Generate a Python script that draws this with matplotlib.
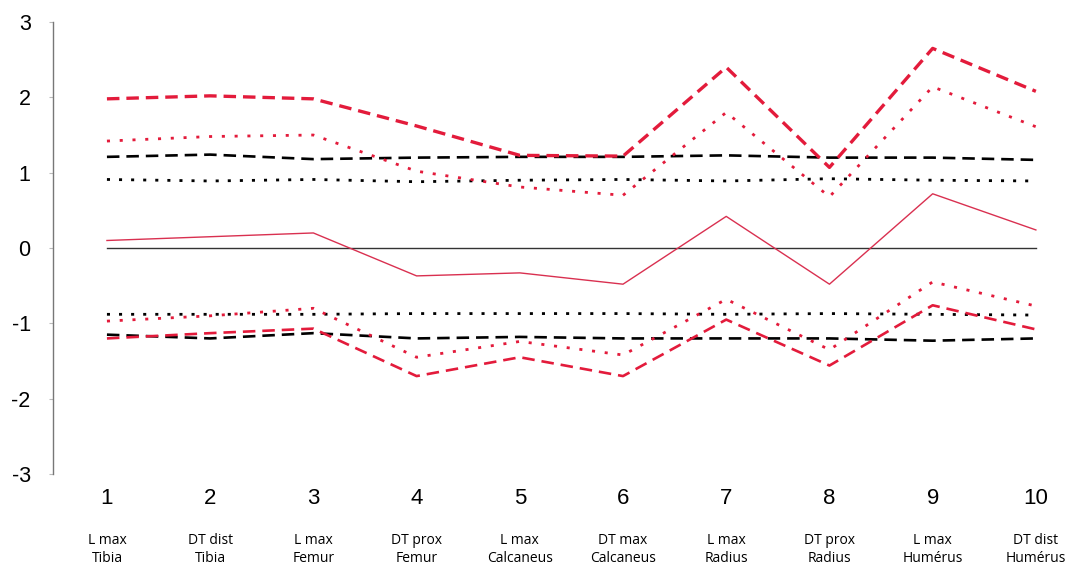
import matplotlib.pyplot as plt

plt.rcParams['font.family'] = ['Liberation Sans', 'DejaVu Sans']
plt.rcParams['lines.scale_dashes'] = False
plt.rcParams['axes.unicode_minus'] = False

x = [1, 2, 3, 4, 5, 6, 7, 8, 9, 10]
labels = ['L max\nTibia', 'DT dist\nTibia', 'L max\nFemur', 'DT prox\nFemur',
          'L max\nCalcaneus', 'DT max\nCalcaneus', 'L max\nRadius',
          'DT prox\nRadius', 'L max\nHumérus', 'DT dist\nHumérus']

mean_red = [0.10, 0.15, 0.20, -0.37, -0.33, -0.48, 0.42, -0.48, 0.72, 0.24]
red_dash_up = [1.98, 2.02, 1.98, 1.62, 1.23, 1.22, 2.40, 1.07, 2.65, 2.08]
red_dot_up = [1.42, 1.48, 1.50, 1.02, 0.81, 0.70, 1.80, 0.68, 2.14, 1.61]
red_dash_lo = [-1.20, -1.13, -1.07, -1.70, -1.45, -1.70, -0.95, -1.56, -0.76, -1.08]
red_dot_lo = [-0.97, -0.90, -0.80, -1.45, -1.24, -1.42, -0.68, -1.35, -0.45, -0.77]
blk_dash_up = [1.21, 1.24, 1.18, 1.20, 1.21, 1.21, 1.23, 1.20, 1.20, 1.17]
blk_dot_up = [0.91, 0.89, 0.91, 0.88, 0.90, 0.91, 0.89, 0.92, 0.90, 0.89]
blk_dash_lo = [-1.15, -1.20, -1.13, -1.20, -1.18, -1.20, -1.20, -1.20, -1.23, -1.20]
blk_dot_lo = [-0.88, -0.88, -0.88, -0.87, -0.87, -0.87, -0.88, -0.87, -0.88, -0.89]
zero = [0] * 10

red = '#e31b3b'
fig = plt.figure(figsize=(10.72, 5.66), dpi=100)
ax = fig.add_axes([0.0494, 0.1625, 0.9506, 0.7986])

ax.plot(x, zero, color='#333333', lw=1.0)
ax.plot(x, blk_dot_up, color='black', lw=2.0, dashes=(2.2, 6.5))
ax.plot(x, blk_dot_lo, color='black', lw=2.0, dashes=(2.2, 6.5))
ax.plot(x, blk_dash_up, color='black', lw=1.9, dashes=(9, 5))
ax.plot(x, blk_dash_lo, color='black', lw=1.9, dashes=(9, 5))
ax.plot(x, red_dot_up, color=red, lw=2.0, dashes=(2.2, 7))
ax.plot(x, red_dot_lo, color=red, lw=2.0, dashes=(2.2, 7))
ax.plot(x, red_dash_up, color=red, lw=2.4, dashes=(9, 5))
ax.plot(x, red_dash_lo, color=red, lw=1.9, dashes=(9, 5))
ax.plot(x, mean_red, color='#d93050', lw=1.0)

ax.set_xlim(0.477, 10.35)
ax.set_ylim(-3, 3)
ax.set_yticks([-3, -2, -1, 0, 1, 2, 3])
ax.tick_params(axis='y', length=3, color='#bbbbbb', labelsize=15.5, pad=13)
ax.set_xticks(x)
ax.set_xticklabels([str(v) for v in x])
ax.tick_params(axis='x', length=0, labelsize=16, pad=10)
for s in ['top', 'right', 'bottom']:
    ax.spines[s].set_visible(False)
ax.spines['left'].set_color('#777777')
ax.spines['left'].set_linewidth(1.0)

for xi, lab in zip(x, labels):
    ax.text(xi, -4.0, lab, ha='center', va='center', fontsize=10,
            family=['Open Sans', 'DejaVu Sans'], linespacing=1.3)

fig.savefig('out.png', dpi=100, facecolor='white')
